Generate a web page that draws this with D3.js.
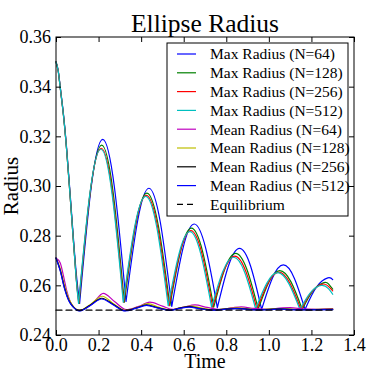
<!DOCTYPE html>
<html>
<head>
<meta charset="utf-8">
<script src="https://cdn.jsdelivr.net/npm/d3@7"></script>
<style>
  body { margin: 0; background: #fff; }
  svg { font-family: "Liberation Serif", "DejaVu Serif", serif; }
</style>
</head>
<body>
<svg id="chart" width="373" height="373"></svg>
<script>
// [time, radius]
const maxRadius64 = [
  [0, 0.3500], [0.01, 0.3467], [0.02, 0.3398], [0.035, 0.3290], [0.05, 0.3152], [0.065, 0.2985], [0.08, 0.2812], [0.095, 0.2650], [0.111, 0.2527],
  [0.1653, 0.2995], [0.2195, 0.3188], [0.2743, 0.2996], [0.329, 0.2535],
  [0.3828, 0.2856], [0.4365, 0.2991], [0.4903, 0.2853], [0.544, 0.2515],
  [0.5965, 0.2749], [0.649, 0.2847], [0.7035, 0.2749], [0.758, 0.2510],
  [0.810, 0.2678], [0.862, 0.2749], [0.914, 0.2678], [0.966, 0.2503],
  [1.017, 0.2630], [1.068, 0.2682], [1.119, 0.2630], [1.170, 0.2503],
  [1.2235, 0.2593], [1.277, 0.2630], [1.30, 0.2623],
];
const maxRadius128 = [
  [0, 0.3500], [0.01, 0.3465], [0.02, 0.3395], [0.035, 0.3285], [0.05, 0.3145], [0.065, 0.2975], [0.08, 0.2800], [0.095, 0.2630], [0.108, 0.2527],
  [0.1613, 0.2978], [0.2146, 0.3165], [0.2678, 0.2979], [0.321, 0.2532],
  [0.374, 0.2842], [0.427, 0.2971], [0.481, 0.2839], [0.535, 0.2518],
  [0.5855, 0.2738], [0.636, 0.2830], [0.6885, 0.2737], [0.741, 0.2512],
  [0.7925, 0.2665], [0.844, 0.2729], [0.897, 0.2664], [0.950, 0.2505],
  [1.0005, 0.2614], [1.051, 0.2659], [1.104, 0.2614], [1.157, 0.2503],
  [1.208, 0.2579], [1.259, 0.2611], [1.28, 0.2606], [1.30, 0.2585],
];
const maxRadius256 = [
  [0, 0.3500], [0.01, 0.3465], [0.02, 0.3395], [0.035, 0.3285], [0.05, 0.3145], [0.065, 0.2975], [0.08, 0.2800], [0.095, 0.2628], [0.107, 0.2527],
  [0.1598, 0.2969], [0.2125, 0.3152], [0.2653, 0.2970], [0.318, 0.2532],
  [0.3713, 0.2835], [0.4245, 0.2962], [0.4778, 0.2833], [0.531, 0.2518],
  [0.5823, 0.2731], [0.6335, 0.2820], [0.6848, 0.2730], [0.736, 0.2512],
  [0.788, 0.2657], [0.840, 0.2718], [0.892, 0.2656], [0.944, 0.2505],
  [0.9958, 0.2609], [1.0475, 0.2653], [1.0993, 0.2608], [1.151, 0.2503],
  [1.202, 0.2575], [1.253, 0.2605], [1.28, 0.2596], [1.30, 0.2578],
];
const maxRadius512 = [
  [0, 0.3500], [0.01, 0.3465], [0.02, 0.3395], [0.035, 0.3285], [0.05, 0.3145], [0.065, 0.2975], [0.08, 0.2800], [0.095, 0.2625], [0.106, 0.2527],
  [0.1585, 0.2966], [0.211, 0.3148], [0.2635, 0.2967], [0.316, 0.2532],
  [0.3688, 0.2832], [0.4215, 0.2958], [0.4743, 0.2830], [0.527, 0.2518],
  [0.578, 0.2728], [0.629, 0.2816], [0.680, 0.2727], [0.731, 0.2512],
  [0.7828, 0.2654], [0.8345, 0.2713], [0.8863, 0.2653], [0.938, 0.2505],
  [0.990, 0.2608], [1.042, 0.2651], [1.094, 0.2607], [1.146, 0.2503],
  [1.1965, 0.2572], [1.247, 0.2600], [1.28, 0.2587], [1.30, 0.2564],
];

const meanRadius64 = [
  [0, 0.2710], [0.02, 0.2690], [0.034, 0.2642], [0.05, 0.2580], [0.066, 0.2536], [0.085, 0.2510], [0.11, 0.2499],
  [0.17, 0.2525], [0.222, 0.2568], [0.275, 0.2535], [0.33, 0.2502], [0.385, 0.2514], [0.441, 0.2532],
  [0.50, 0.2516], [0.55, 0.2503], [0.60, 0.2512], [0.653, 0.2521], [0.71, 0.2511], [0.77, 0.2503],
  [0.83, 0.2510], [0.87, 0.2513], [0.93, 0.2507], [0.99, 0.2503], [1.05, 0.2508], [1.10, 0.2510],
  [1.16, 0.2505], [1.22, 0.2503], [1.30, 0.2506],
];
const meanRadius128 = [
  [0, 0.2710], [0.02, 0.2668], [0.04, 0.2600], [0.06, 0.2547], [0.08, 0.2516], [0.11, 0.2499],
  [0.16, 0.2522], [0.217, 0.2556], [0.27, 0.2526], [0.325, 0.2499], [0.378, 0.2510], [0.432, 0.2526],
  [0.485, 0.2511], [0.537, 0.2500], [0.585, 0.2509], [0.635, 0.2516], [0.69, 0.2507], [0.745, 0.2501],
  [0.80, 0.2506], [0.85, 0.2509], [0.95, 0.2502], [1.05, 0.2506], [1.15, 0.2502], [1.30, 0.2504],
];
const meanRadius256 = [
  [0, 0.2710], [0.02, 0.2660], [0.04, 0.2590], [0.06, 0.2540], [0.08, 0.2514], [0.11, 0.2498],
  [0.16, 0.2520], [0.215, 0.2548], [0.27, 0.2523], [0.324, 0.2498], [0.375, 0.2508], [0.426, 0.2521],
  [0.48, 0.2509], [0.535, 0.2500], [0.58, 0.2508], [0.625, 0.2514], [0.68, 0.2506], [0.74, 0.2501],
  [0.80, 0.2505], [0.85, 0.2507], [0.95, 0.2502], [1.05, 0.2505], [1.15, 0.2502], [1.30, 0.2503],
];
const meanRadius512 = [
  [0, 0.2710], [0.02, 0.2658], [0.04, 0.2587], [0.06, 0.2538], [0.08, 0.2513], [0.11, 0.2497],
  [0.16, 0.2518], [0.214, 0.2545], [0.27, 0.2521], [0.324, 0.2497], [0.375, 0.2507], [0.425, 0.2519],
  [0.48, 0.2508], [0.535, 0.2499], [0.58, 0.2507], [0.625, 0.2512], [0.68, 0.2505], [0.74, 0.2500],
  [0.80, 0.2504], [0.85, 0.2506], [0.95, 0.2501], [1.05, 0.2504], [1.15, 0.2501], [1.30, 0.2502],
];
const equilibrium = [[0, 0.25], [1.3, 0.25]];

const xTicks = [0, 0.2, 0.4, 0.6, 0.8, 1.0, 1.2, 1.4];
const yTicks = [0.24, 0.26, 0.28, 0.30, 0.32, 0.34, 0.36];

const series = [
  { label: 'Max Radius (N=64)', data: maxRadius64, color: '#0000ff', kind: 'max' },
  { label: 'Max Radius (N=128)', data: maxRadius128, color: '#008000', kind: 'max' },
  { label: 'Max Radius (N=256)', data: maxRadius256, color: '#ff0000', kind: 'max' },
  { label: 'Max Radius (N=512)', data: maxRadius512, color: '#00bfbf', kind: 'max' },
  { label: 'Mean Radius (N=64)', data: meanRadius64, color: '#bf00bf', kind: 'mean' },
  { label: 'Mean Radius (N=128)', data: meanRadius128, color: '#bfbf00', kind: 'mean' },
  { label: 'Mean Radius (N=256)', data: meanRadius256, color: '#000000', kind: 'mean' },
  { label: 'Mean Radius (N=512)', data: meanRadius512, color: '#0000ff', kind: 'mean' },
  { label: 'Equilibrium', data: equilibrium, color: '#000000', kind: 'dash' },
];

const margin = { top: 37, right: 19, bottom: 38, left: 56 };
const width = 373 - margin.left - margin.right;
const height = 373 - margin.top - margin.bottom;

const svg = d3.select('#chart');
const g = svg.append('g').attr('transform', `translate(${margin.left},${margin.top})`);

const x = d3.scaleLinear().domain([0, 1.4]).range([0, width]);
const y = d3.scaleLinear().domain([0.24, 0.36]).range([height, 0]);

// split a series at its cusps (local minima) so each arch keeps a sharp corner
const splitAtCusps = (pts) => {
  const segs = [];
  let cur = [pts[0]];
  for (let i = 1; i < pts.length; i += 1) {
    cur.push(pts[i]);
    if (i < pts.length - 1 && pts[i][1] < pts[i - 1][1] && pts[i][1] < pts[i + 1][1]) {
      segs.push(cur);
      cur = [pts[i]];
    }
  }
  segs.push(cur);
  return segs;
};

const archLine = d3.line().x(d => x(d[0])).y(d => y(d[1])).curve(d3.curveNatural);
const smoothLine = d3.line().x(d => x(d[0])).y(d => y(d[1])).curve(d3.curveMonotoneX);

series.forEach((s) => {
  let dStr;
  if (s.kind === 'max') {
    dStr = splitAtCusps(s.data).map(seg => archLine(seg)).join('');
  } else {
    dStr = smoothLine(s.data);
  }
  g.append('path')
    .attr('d', dStr)
    .attr('fill', 'none')
    .attr('stroke', s.color)
    .attr('stroke-width', 1.2)
    .attr('stroke-linecap', 'round')
    .attr('stroke-linejoin', 'round')
    .attr('stroke-dasharray', s.kind === 'dash' ? '6,4' : null);
});

// axes: ticks point inward on all four sides
const styleAxis = (sel) => {
  sel.select('.domain').remove();
  sel.selectAll('.tick line').attr('stroke', '#000');
  sel.selectAll('.tick text').attr('fill', '#000').attr('font-size', '18px')
    .attr('font-family', '"Liberation Serif", "DejaVu Serif", serif');
};

g.append('g')
  .attr('transform', `translate(0,${height})`)
  .call(d3.axisBottom(x).tickValues(xTicks).tickFormat(d3.format('.1f')).tickSizeInner(-5).tickSizeOuter(0).tickPadding(3))
  .call(styleAxis);
g.append('g')
  .call(d3.axisTop(x).tickValues(xTicks).tickFormat('').tickSizeInner(-5).tickSizeOuter(0))
  .call(styleAxis);
g.append('g')
  .call(d3.axisLeft(y).tickValues(yTicks).tickFormat(d3.format('.2f')).tickSizeInner(-5).tickSizeOuter(0).tickPadding(5))
  .call(styleAxis);
g.append('g')
  .attr('transform', `translate(${width},0)`)
  .call(d3.axisRight(y).tickValues(yTicks).tickFormat('').tickSizeInner(-5).tickSizeOuter(0))
  .call(styleAxis);

g.append('rect')
  .attr('width', width)
  .attr('height', height)
  .attr('fill', 'none')
  .attr('stroke', '#000')
  .attr('stroke-width', 1);

// legend
const legend = svg.append('g').attr('transform', 'translate(167,43)');
legend.append('rect')
  .attr('width', 181)
  .attr('height', 173)
  .attr('fill', '#fff')
  .attr('stroke', '#000')
  .attr('stroke-width', 1);

series.forEach((s, i) => {
  const cy = 11 + i * 18.8;
  legend.append('line')
    .attr('x1', 10).attr('x2', 29)
    .attr('y1', cy).attr('y2', cy)
    .attr('stroke', s.color)
    .attr('stroke-width', 1.2)
    .attr('stroke-dasharray', s.kind === 'dash' ? '6,4' : null);
  legend.append('text')
    .attr('x', 43)
    .attr('y', cy)
    .attr('dy', '0.35em')
    .attr('font-size', '15.5px')
    .text(s.label);
});

svg.append('text')
  .attr('x', margin.left + width / 2)
  .attr('y', 32)
  .attr('text-anchor', 'middle')
  .attr('font-size', '25.5px')
  .text('Ellipse Radius');

svg.append('text')
  .attr('x', margin.left + width / 2)
  .attr('y', 368)
  .attr('text-anchor', 'middle')
  .attr('font-size', '20px')
  .text('Time');

svg.append('text')
  .attr('transform', `translate(18,${margin.top + height / 2}) rotate(-90)`)
  .attr('text-anchor', 'middle')
  .attr('font-size', '21px')
  .text('Radius');
</script>
</body>
</html>
